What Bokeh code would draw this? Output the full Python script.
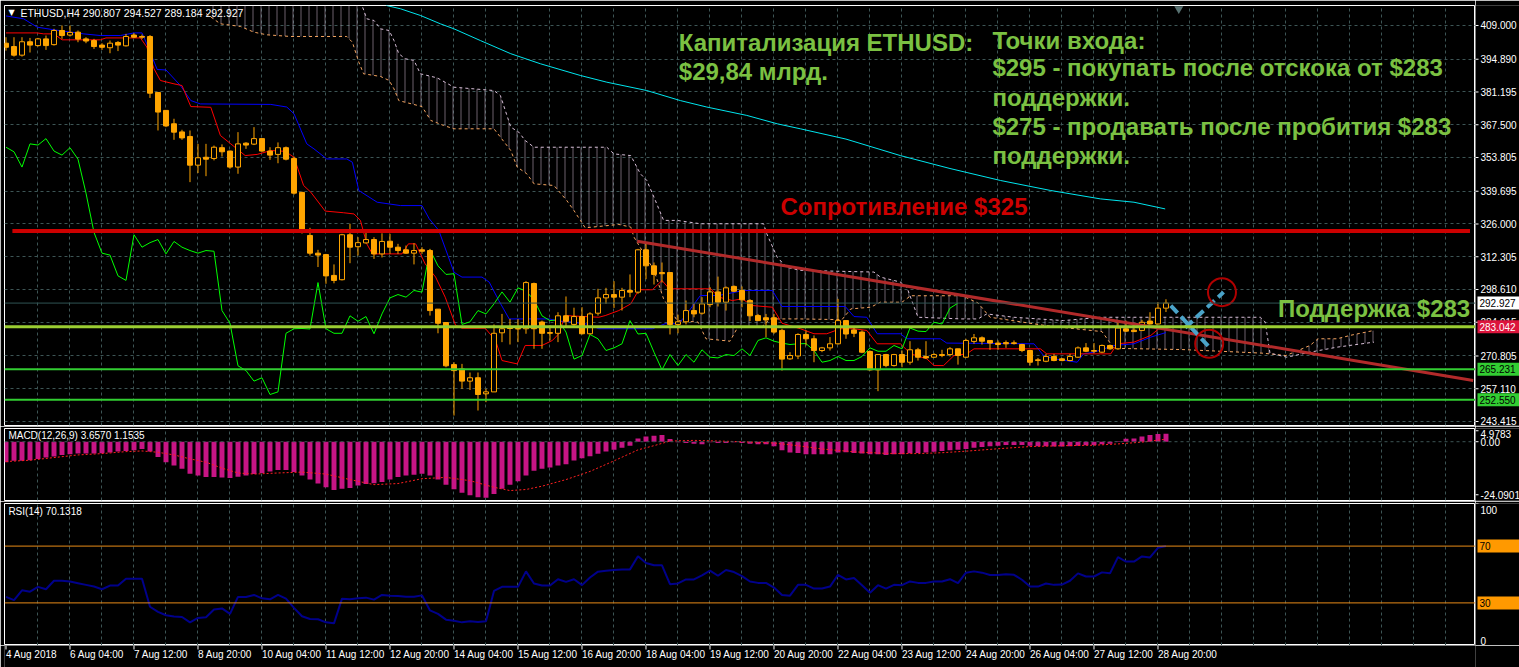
from bokeh.plotting import figure
from bokeh.models import Range1d, FixedTicker, Grid, Label, ColumnDataSource, Span
from bokeh.layouts import column, row
from bokeh.embed import file_html
from bokeh.resources import INLINE
from bokeh.core.properties import value

# ------------------------------------------------------------------ data
bar_open = [
    401.6, 400.2, 396.6, 402.2, 400.6, 403.4, 401.0, 406.9, 405.0, 406.2,
    403.4, 402.7, 400.8, 399.7, 401.9, 400.5, 405.0, 404.4, 404.4, 381.0,
    373.5, 367.9, 364.5, 362.6, 350.6, 353.9, 353.4, 357.9, 356.5, 349.8,
    359.8, 359.4, 361.7, 356.5, 355.1, 357.9, 353.4, 339.2, 321.2, 313.8,
    313.2, 304.5, 302.7, 321.5, 316.5, 318.1, 319.5, 313.5, 318.8, 316.3,
    315.2, 313.8, 315.2, 314.9, 290.4, 284.8, 267.2, 265.4, 260.3, 261.7,
    255.0, 255.8, 280.5, 282.5, 282.3, 282.2, 301.1, 285.0, 280.6, 280.3,
    287.6, 284.0, 287.3, 280.1, 288.7, 295.1, 296.5, 295.4, 298.2, 297.5,
    315.2, 308.5, 305.7, 305.7, 284.0, 285.1, 289.8, 288.7, 292.3, 297.6,
    293.3, 299.9, 298.2, 294.0, 287.7, 286.8, 286.8, 281.5, 269.6, 270.8,
    279.8, 278.0, 273.1, 274.2, 275.9, 285.6, 281.7, 280.8, 272.7, 265.0,
    271.4, 266.8, 271.4, 268.2, 273.4, 270.6, 270.3, 271.4, 271.4, 273.8,
    270.3, 276.9, 278.4, 277.3, 276.2, 276.4, 276.3, 275.6, 273.1, 269.2,
    268.6, 270.6, 269.6, 268.9, 270.3, 274.2, 273.1, 272.4, 275.2, 273.8,
    282.2, 281.6, 281.5, 285.4, 284.2, 290.807]
bar_high = [
    404.1, 404.1, 404.1, 403.8, 403.8, 404.8, 407.6, 409.0, 409.0, 406.9,
    404.1, 403.4, 401.6, 402.7, 402.5, 405.5, 405.8, 405.2, 405.0, 381.0,
    373.5, 370.0, 365.4, 365.1, 359.5, 359.5, 358.8, 359.3, 356.7, 364.4,
    360.2, 366.5, 361.7, 358.1, 360.1, 358.4, 354.2, 339.5, 324.4, 315.2,
    313.5, 309.1, 321.9, 326.1, 320.5, 323.6, 320.5, 322.1, 321.9, 317.7,
    317.0, 318.0, 316.3, 315.6, 290.4, 284.8, 268.2, 267.5, 263.9, 263.9,
    257.1, 284.0, 288.4, 286.3, 286.3, 302.1, 301.5, 285.6, 283.6, 289.1,
    295.7, 291.0, 291.2, 289.1, 298.9, 299.3, 302.1, 299.3, 304.9, 315.6,
    317.7, 309.9, 309.9, 305.7, 288.1, 294.0, 292.6, 295.4, 299.6, 304.0,
    299.9, 300.3, 299.9, 294.6, 288.4, 288.4, 288.4, 282.2, 272.4, 280.3,
    281.5, 279.4, 274.6, 278.7, 294.7, 285.6, 282.6, 281.5, 273.1, 271.5,
    271.7, 271.7, 273.1, 277.0, 274.2, 277.0, 272.0, 273.4, 274.5, 273.8,
    278.0, 280.0, 279.0, 277.3, 277.3, 277.3, 277.3, 275.9, 273.4, 270.0,
    271.7, 271.7, 270.0, 271.7, 274.8, 276.2, 276.2, 275.6, 275.6, 285.0,
    285.6, 284.0, 285.9, 289.1, 293.3, 294.527]
bar_low = [
    398.5, 396.0, 396.0, 397.7, 400.2, 398.8, 400.6, 403.4, 404.4, 402.0,
    401.6, 399.2, 398.8, 397.4, 398.3, 400.2, 403.8, 403.3, 378.7, 365.1,
    366.5, 361.2, 361.2, 343.5, 347.3, 346.0, 352.6, 354.2, 349.1, 347.0,
    357.4, 359.0, 356.2, 352.8, 351.4, 352.6, 338.3, 322.0, 312.8, 308.0,
    301.0, 301.2, 302.4, 309.6, 312.8, 317.8, 311.4, 312.0, 313.5, 313.5,
    313.5, 309.1, 313.5, 287.7, 280.3, 266.1, 245.9, 257.1, 256.6, 248.0,
    251.5, 255.8, 276.6, 275.6, 276.6, 280.1, 273.8, 273.8, 277.3, 276.6,
    282.8, 282.8, 279.8, 279.8, 287.7, 292.6, 290.9, 289.8, 295.4, 296.8,
    302.9, 300.7, 301.5, 279.8, 280.3, 284.0, 287.0, 288.1, 291.2, 291.5,
    289.8, 297.5, 291.2, 285.4, 285.4, 278.7, 280.1, 264.7, 269.2, 269.5,
    275.2, 268.2, 272.4, 273.1, 275.6, 278.0, 278.7, 272.0, 264.7, 256.1,
    266.1, 266.4, 266.1, 267.2, 268.9, 269.6, 270.0, 270.3, 270.6, 267.2,
    270.0, 275.9, 275.6, 273.4, 273.4, 274.2, 275.6, 272.4, 266.8, 266.8,
    268.2, 268.6, 268.6, 268.6, 270.0, 272.4, 272.0, 272.0, 273.4, 273.4,
    280.8, 281.0, 281.2, 284.0, 284.0, 289.184]
bar_close = [
    399.9, 396.6, 402.2, 400.8, 403.4, 400.6, 406.9, 404.8, 406.1, 403.3,
    402.5, 400.2, 399.9, 401.6, 400.8, 404.4, 404.1, 404.1, 380.7, 372.8,
    367.0, 364.4, 362.0, 350.6, 353.7, 353.1, 358.1, 356.2, 349.8, 359.5,
    359.0, 361.7, 356.5, 354.8, 357.9, 353.1, 338.9, 322.5, 313.8, 313.0,
    304.3, 302.4, 321.5, 316.3, 318.2, 319.5, 313.5, 318.7, 316.3, 314.9,
    313.8, 314.9, 314.6, 289.8, 284.5, 266.7, 264.7, 260.3, 261.7, 254.7,
    255.8, 280.3, 282.2, 282.3, 282.1, 301.5, 282.2, 280.3, 280.3, 287.6,
    285.3, 287.3, 280.1, 288.4, 295.1, 296.5, 295.4, 298.2, 297.5, 315.2,
    308.5, 304.9, 305.2, 284.0, 285.1, 289.8, 288.4, 292.6, 297.6, 293.3,
    299.3, 297.9, 294.3, 287.6, 285.6, 285.9, 280.8, 269.5, 271.0, 279.8,
    278.0, 273.1, 274.2, 275.9, 285.6, 280.0, 280.3, 272.4, 265.0, 271.4,
    266.8, 271.4, 268.2, 273.4, 270.3, 270.0, 271.4, 271.0, 273.8, 271.0,
    277.3, 278.4, 277.0, 276.2, 275.6, 275.9, 276.0, 273.1, 268.2, 268.9,
    270.6, 268.9, 268.9, 270.6, 274.2, 272.8, 272.8, 275.2, 273.8, 282.5,
    281.2, 281.0, 284.9, 284.2, 290.8, 292.927]

# Ichimoku lines (read as break points: bar index, price)
tenkan_x = [0, 3.9, 4.7, 6.0, 7.0, 11.8, 12.5, 16.8, 17.6, 18.5, 19.3, 21.0, 22.0, 23.1, 25.6, 26.8,
            28.1, 29.9, 31.4, 33.1, 34.9, 36.0, 37.2, 38.1, 39.9, 42.2, 43.5, 44.3, 45.1, 45.8, 49.5,
            50.3, 51.2, 52.4, 53.7, 54.9, 56.2, 57.0, 59.9, 61.2, 62.0, 63.9, 64.9, 67.0, 68.3, 69.1,
            69.9, 74.1, 74.9, 76.6, 78.1, 79.1, 80.8, 82.0, 82.9, 88.1, 89.1, 90.8, 92.0, 93.3, 95.8,
            97.0, 99.3, 101.0, 102.6, 104.3, 106.0, 107.6, 108.9, 111.8, 113.1, 115.1, 116.0, 117.2,
            118.5, 120.1, 121.0, 129.3, 130.1, 138.1, 138.9, 141.0, 143.1, 144.1, 145.0]
tenkan_y = [405.9, 405.9, 405.5, 405.5, 403.0, 403.0, 403.8, 403.8, 400.0, 390.9, 386.0, 384.6, 383.9,
            375.1, 374.8, 363.0, 359.5, 354.6, 355.1, 356.7, 356.4, 353.9, 342.1, 339.3, 331.4, 330.7,
            330.2, 327.5, 317.7, 313.5, 313.5, 317.7, 317.7, 309.3, 303.8, 295.4, 283.6, 282.4, 282.4,
            277.3, 268.9, 267.5, 275.2, 275.2, 277.3, 280.1, 287.7, 287.0, 287.7, 289.8, 292.6, 298.5,
            298.5, 302.4, 298.9, 298.9, 295.4, 294.0, 294.7, 291.9, 291.2, 284.5, 282.2, 280.1, 280.1,
            282.2, 282.2, 281.5, 275.9, 275.9, 271.7, 269.6, 266.8, 266.8, 271.0, 271.7, 273.8, 273.8,
            271.7, 271.7, 275.9, 276.6, 279.4, 282.2, 282.2]
kijun_x = [0, 2.2, 3.9, 6.0, 9.7, 11.8, 14.3, 16.0, 17.0, 17.6, 18.9, 20.0, 21.8, 23.1, 24.3, 33.1,
           35.1, 36.0, 37.6, 38.5, 40.1, 42.6, 43.3, 44.1, 46.4, 49.3, 52.0, 52.9, 54.1, 56.0, 57.0,
           59.5, 60.4, 61.6, 62.9, 67.9, 69.1, 70.8, 72.9, 74.1, 80.8, 82.4, 84.1, 85.1, 86.8, 89.1,
           92.2, 95.8, 97.0, 104.9, 106.0, 107.6, 108.9, 111.8, 112.6, 116.8, 117.6, 128.5, 129.7,
           131.0, 133.9, 134.7, 136.0, 138.5, 141.0, 143.1, 145.0]
kijun_y = [413.0, 411.8, 408.3, 407.2, 405.5, 404.8, 404.8, 405.9, 405.9, 401.3, 390.6, 390.4, 383.9,
           377.6, 376.2, 376.0, 374.9, 372.1, 359.5, 357.4, 353.2, 353.2, 351.8, 340.0, 335.1, 333.7,
           333.7, 328.2, 323.3, 305.8, 303.8, 303.8, 301.7, 294.0, 286.3, 286.3, 285.4, 285.0, 284.0,
           282.2, 282.2, 284.3, 284.3, 288.4, 296.1, 296.1, 298.2, 298.2, 291.5, 291.5, 287.3, 287.0,
           280.1, 280.1, 278.0, 278.0, 276.2, 275.9, 271.0, 269.6, 268.2, 271.7, 272.4, 275.2, 275.9,
           278.7, 280.6]
span_a_x = [25, 26.8, 29.3, 31.0, 32.6, 35.6, 42.6, 43.3, 44.1, 44.7, 46.8, 47.9, 48.5, 49.1, 52.0,
            53.1, 54.7, 56.0, 61.0, 63.1, 63.9, 65.1, 66.0, 68.5, 70.1, 71.0, 71.8, 72.4, 76.6, 78.1,
            78.5, 81.0, 82.2, 83.9, 86.5, 87.5, 90.5, 91.5, 94.5, 95.5, 99.3, 104.5, 105.6, 108.1,
            109.3, 112.0, 113.1, 119.5, 121.5, 123.0, 130.0, 137.0, 138.5, 147.0, 157.0, 160.0, 163.0,
            164.0, 166.4, 168.0, 170.0, 171.0]
span_a_y = [414.0, 409.7, 408.6, 406.2, 405.1, 404.4, 404.4, 402.0, 393.7, 388.8, 387.7, 386.0, 382.5,
            377.6, 375.1, 369.3, 367.2, 365.8, 365.8, 356.7, 349.8, 347.0, 342.8, 342.1, 335.8, 331.6,
            327.5, 324.4, 325.8, 324.7, 320.5, 306.6, 294.7, 285.6, 285.0, 278.0, 277.0, 283.0, 283.0,
            286.3, 286.3, 286.0, 290.5, 291.2, 293.3, 293.3, 296.0, 296.0, 293.0, 287.0, 283.5, 281.0,
            274.0, 273.5, 272.0, 271.0, 275.2, 278.0, 278.0, 279.4, 280.8, 281.5]
span_b_x = [25, 44.2, 44.5, 45.1, 46.0, 46.8, 47.9, 48.5, 49.1, 49.9, 51.0, 51.8, 53.9, 56.0, 61.0,
            61.8, 63.1, 64.1, 64.9, 66.0, 75.1, 76.0, 78.1, 79.3, 80.1, 81.0, 82.2, 83.9, 86.8, 94.7,
            95.1, 96.4, 97.6, 99.3, 108.5, 109.3, 111.8, 112.6, 114.0, 119.5, 121.5, 122.6, 126.0,
            132.2, 136.8, 156.8, 157.4, 158.0, 160.1, 163.0, 166.4, 171.0]
span_b_y = [425.0, 425.0, 417.4, 411.8, 411.1, 407.6, 406.9, 402.7, 397.2, 395.1, 394.4, 388.8, 387.1,
            383.2, 381.8, 379.7, 366.5, 364.4, 360.9, 358.1, 358.1, 355.3, 354.6, 347.0, 344.2, 337.2,
            327.5, 327.5, 326.1, 326.1, 321.9, 312.1, 307.9, 306.6, 305.9, 303.8, 301.7, 299.6, 287.0,
            286.3, 286.3, 288.4, 287.0, 285.6, 287.0, 287.0, 285.0, 272.0, 270.3, 272.4, 274.5, 276.6]
chikou_shift = 26

# long moving average (cyan)
ma_x = [47.5, 49.3, 51.8, 54.3, 56.0, 59.3, 63.1, 66.8, 71.8, 75.1, 80.1, 84.3, 87.6, 92.6, 96.4,
        99.3, 105.0, 111.8, 118.0, 124.3, 130.6, 136.8, 141.0, 144.9]
ma_y = [417.4, 416.0, 413.2, 409.7, 407.6, 402.7, 397.2, 393.0, 388.1, 385.3, 381.8, 377.6, 374.9,
        371.4, 367.9, 365.8, 361.5, 354.6, 349.2, 344.2, 340.0, 336.5, 335.1, 332.3]

# MACD
macd_hist = [
    -9.3, -8.7, -8.7, -8.4, -7.8, -7.2, -6.7, -6.0, -5.7, -5.4,
    -5.4, -5.4, -5.2, -4.9, -4.5, -4.2, -3.9, -3.3, -4.5, -6.9,
    -9.3, -10.8, -12.3, -14.5, -15.4, -16.0, -16.0, -16.2, -16.5, -15.9,
    -15.3, -14.7, -14.2, -13.5, -12.9, -12.9, -13.8, -15.3, -17.2, -19.0,
    -20.7, -21.9, -21.4, -21.0, -19.9, -19.2, -18.9, -18.3, -17.2, -16.0,
    -15.4, -15.0, -14.5, -15.4, -17.2, -19.5, -21.6, -23.2, -24.3, -25.2,
    -25.5, -23.7, -21.4, -19.5, -18.0, -15.3, -13.2, -12.3, -11.7, -10.8,
    -10.2, -8.5, -7.5, -6.6, -5.5, -4.5, -3.6, -2.7, -1.8, 1.5,
    2.4, 2.7, 3.0, 1.2, -0.3, -0.6, -0.9, -1.2, -0.3, -0.6,
    -0.6, -0.3, -0.6, -0.9, -1.2, -1.2, -2.1, -3.9, -4.9, -5.1,
    -5.7, -5.7, -5.7, -5.7, -4.9, -4.8, -5.1, -5.4, -5.7, -5.7,
    -6.0, -5.7, -5.7, -5.2, -5.1, -4.9, -4.6, -4.2, -3.9, -3.6,
    -3.3, -2.7, -2.4, -2.1, -1.8, -1.5, -1.5, -1.5, -1.8, -2.1,
    -2.1, -2.2, -2.2, -2.1, -1.8, -1.6, -1.5, -1.2, -0.9, 0.2,
    1.3, 1.5, 2.4, 3.0, 3.5, 3.657]
signal_x = [0, 3, 6, 9, 12, 15, 17, 19, 21, 23, 25, 27, 29, 31, 34, 37, 40, 43, 46, 49, 52, 55, 58,
            61, 63, 65, 67, 70, 73, 76, 79, 81, 83, 86, 89, 92, 94, 96, 99, 102, 106, 110, 114, 117,
            120, 124, 128, 132, 136, 139, 142, 145]
signal_v = [-9.0, -8.4, -7.2, -6.0, -5.4, -4.5, -4.2, -4.8, -6.0, -7.8, -9.3, -12.0, -14.2, -14.7,
            -14.2, -13.8, -14.7, -17.2, -19.5, -19.0, -16.8, -16.2, -17.7, -20.7, -22.2, -21.7, -20.2,
            -17.2, -13.5, -8.7, -3.7, -1.8, 0.3, 0.6, 0.3, 0.0, -0.3, -0.6, -1.8, -3.3, -4.6, -5.3,
            -5.4, -5.0, -4.3, -3.2, -2.2, -1.8, -1.6, -1.0, -0.2, 1.1535]

# RSI(14)
rsi = [
    34.2, 32.0, 38.9, 37.9, 41.3, 39.6, 45.6, 45.6, 45.1, 43.9,
    42.7, 41.5, 39.6, 42.2, 42.2, 47.0, 47.0, 47.0, 27.3, 23.7,
    21.3, 20.4, 20.1, 16.3, 19.4, 19.9, 25.4, 26.1, 22.3, 34.2,
    34.2, 35.6, 33.2, 32.5, 35.6, 33.0, 26.5, 20.6, 18.7, 18.5,
    16.3, 15.6, 33.0, 32.5, 33.2, 33.7, 32.3, 35.6, 35.1, 34.9,
    34.4, 34.4, 35.3, 24.7, 22.3, 18.2, 17.5, 16.3, 17.0, 16.6,
    17.0, 38.4, 41.3, 41.3, 41.3, 52.2, 43.7, 42.2, 42.2, 46.7,
    44.8, 46.7, 42.5, 47.9, 52.0, 52.7, 53.2, 53.6, 53.6, 62.9,
    58.1, 56.5, 56.5, 43.2, 43.7, 46.5, 46.5, 49.4, 52.7, 49.1,
    53.2, 51.7, 48.9, 45.1, 44.1, 44.1, 40.8, 35.6, 35.1, 42.7,
    42.7, 40.1, 40.1, 41.5, 49.8, 46.5, 47.5, 42.5, 37.2, 42.5,
    40.1, 42.7, 42.5, 45.1, 44.1, 44.1, 45.1, 45.1, 46.7, 43.9,
    51.3, 52.2, 51.3, 49.6, 49.6, 50.1, 49.8, 46.3, 41.5, 41.5,
    43.7, 42.7, 42.9, 45.6, 50.8, 48.6, 48.6, 51.5, 50.8, 62.2,
    59.1, 59.1, 62.7, 62.0, 68.8, 70.1318]
rsi_levels = [70, 30]

# axis ticks and labels
price_ticks = [409.000, 394.890, 381.195, 367.500, 353.805, 339.695, 326.000, 312.305,
               298.610, 284.915, 270.805, 257.110, 243.415]
macd_ticks = [4.9783, 0.0, -24.0901]
macd_tick_text = ["4.9783", "0.00", "-24.0901"]
rsi_ticks = [100, 0]
rsi_tick_text = ["100", "0"]
time_tick_bars = [0, 8, 16, 24, 32, 40, 48, 56, 64, 72, 80, 88, 96, 104, 112, 120, 128, 136, 144]
time_labels = ["4 Aug 2018", "6 Aug 04:00", "7 Aug 12:00", "8 Aug 20:00", "10 Aug 04:00",
               "11 Aug 12:00", "12 Aug 20:00", "14 Aug 04:00", "15 Aug 12:00", "16 Aug 20:00",
               "18 Aug 04:00", "19 Aug 12:00", "20 Aug 20:00", "22 Aug 04:00", "23 Aug 12:00",
               "24 Aug 20:00", "26 Aug 04:00", "27 Aug 12:00", "28 Aug 20:00"]

# horizontal levels / drawn objects
current_price = 292.927
support_level = 283.042
green_levels = [265.231, 252.550]
resistance_level = 323.1
resistance_x = [0.8, 183.0]
trend_x = [78.9, 183.4]
trend_y = [318.8, 260.6]
arrow1_x = [145.6, 150.6]
arrow1_y = [291.9, 273.8]
arrow2_x = [147.4, 152.2]
arrow2_y = [282.6, 297.5]
circle_x = [152.0, 150.4]
circle_y = [297.5, 275.9]
shift_mark = (146.6, 416.0)

# texts
green_notes = [
    ("Капитализация ETHUSD:", 84.1, 401.9),
    ("$29,84 млрд.", 84.1, 389.8),
    ("Точки входа:", 123.3, 402.7),
    ("$295 - покупать после отскока от $283", 123.3, 391.4),
    ("поддержки.", 123.3, 378.9),
    ("$275 - продавать после пробития  $283", 123.3, 366.8),
    ("поддержки.", 123.3, 354.6),
    ("Поддержка $283", 159.0, 290.7),
]
red_note = ("Сопротивление $325", 96.8, 333.3)
header_text = "ETHUSD,H4  290.807 294.527 289.184 292.927"
macd_title = "MACD(12,26,9) 3.6570 1.1535"
rsi_title = "RSI(14) 70.1318"
price_boxes = [("292.927", 292.927, "#ffffff", "#000000"),
               ("283.042", 283.042, "#dc143c", "#ffffff"),
               ("265.231", 265.231, "#32cd32", "#000000"),
               ("252.550", 252.550, "#32cd32", "#000000")]
rsi_boxes = [("70", 70, "#ff9900", "#000000"), ("30", 30, "#ff9900", "#000000")]

# ------------------------------------------------------------------ style
LEFT = 4
FRAME_W = 1471
MAIN_W = LEFT + FRAME_W
SIDE_W = 44
BG = "#000000"
GRIDC = "#3d5555"
FONT = "Liberation Sans"
CANDLE = "#ffa500"
GREEN_TXT = "#7bc142"
X_START, X_END = -0.1875, 183.69

xr = Range1d(X_START, X_END)
vgrid_ticks = list(range(4, 184, 4))


def make_fig(h, yr, top, bottom):
    p = figure(width=MAIN_W, height=h, x_range=xr, y_range=yr,
               output_backend="svg", toolbar_location=None,
               x_axis_location=None, y_axis_location=None,
               min_border_left=LEFT, min_border_right=0,
               min_border_top=top, min_border_bottom=bottom,
               background_fill_color=BG, border_fill_color=BG,
               outline_line_color="white", outline_line_width=1)
    p.grid.visible = False
    vg = Grid(dimension=0, ticker=FixedTicker(ticks=vgrid_ticks),
              grid_line_color=GRIDC, grid_line_dash="3 3", grid_line_width=1)
    p.add_layout(vg, "center")
    return p


def make_side(h, yr, top, bottom):
    s = figure(width=SIDE_W, height=h, x_range=Range1d(0, SIDE_W), y_range=yr,
               output_backend="svg", toolbar_location=None,
               x_axis_location=None, y_axis_location=None,
               min_border_left=0, min_border_right=0,
               min_border_top=top, min_border_bottom=bottom,
               background_fill_color=BG, border_fill_color=BG, outline_line_color=None)
    s.grid.visible = False
    return s


def side_ticks(s, ticks, texts, baselines=None, offsets=None):
    n = len(ticks)
    s.segment(x0=[0] * n, x1=[3] * n, y0=ticks, y1=ticks, line_color="white", line_width=1)
    for k in range(n):
        s.text(x=[5], y=[ticks[k]], text=[texts[k]], text_font=value(FONT),
               text_font_size="10px", text_color="white", text_align="left",
               text_baseline=(baselines[k] if baselines else "middle"),
               y_offset=(offsets[k] if offsets else 0))


def side_boxes(s, boxes):
    for t, y, bg, fg in boxes:
        s.rect(x=[23], y=[y], width=42, height=13, height_units="screen",
               fill_color=bg, line_color=None)
        s.text(x=[4], y=[y], text=[t], text_font=value(FONT), text_font_size="10px",
               text_color=fg, text_align="left", text_baseline="middle")


# ------------------------------------------------------------------ main pane
yr1 = Range1d(241.74, 417.36)
p1 = make_fig(426, yr1, 5, 1)
p1.add_layout(Grid(dimension=1, ticker=FixedTicker(ticks=price_ticks),
                   grid_line_color=GRIDC, grid_line_dash="3 3"), "center")

# cloud
p1.patch(x=span_a_x + span_b_x[::-1], y=span_a_y + span_b_y[::-1],
         fill_alpha=0, line_alpha=0, hatch_pattern="vertical_line",
         hatch_color="#d8bfd8", hatch_scale=8, hatch_weight=1, hatch_alpha=0.5)
p1.line(span_a_x, span_a_y, line_color="#f4a460", line_dash="3 3", line_width=1)
p1.line(span_b_x, span_b_y, line_color="#d8bfd8", line_dash="3 3", line_width=1)

p1.line(ma_x, ma_y, line_color="#00e5ee", line_width=1)
p1.line(kijun_x, kijun_y, line_color="#0000ff", line_width=1)
p1.line(tenkan_x, tenkan_y, line_color="#ff0000", line_width=1)
chikou_x = [i - chikou_shift for i in range(chikou_shift, len(bar_close))]
p1.line(chikou_x, bar_close[chikou_shift:], line_color="#00ff00", line_width=1)

p1.add_layout(Span(location=current_price, dimension="width", line_color="#2f5454", line_width=1))

# candles
idx = list(range(len(bar_close)))
tops = [max(o, c) for o, c in zip(bar_open, bar_close)]
bots = [min(o, c) for o, c in zip(bar_open, bar_close)]
fills = [CANDLE if c < o else BG for o, c in zip(bar_open, bar_close)]
src = ColumnDataSource(dict(x=idx, h=bar_high, l=bar_low, top=tops, bot=bots, fill=fills))
p1.segment(x0="x", y0="l", x1="x", y1="h", source=src, line_color=CANDLE, line_width=1)
p1.vbar(x="x", width=0.62, top="top", bottom="bot", source=src,
        fill_color="fill", line_color=CANDLE, line_width=1)

# levels & drawings
p1.add_layout(Span(location=support_level, dimension="width", line_color="#9acd32", line_width=3))
for lv in green_levels:
    p1.add_layout(Span(location=lv, dimension="width", line_color="#32cd32", line_width=2))
p1.line(resistance_x, [resistance_level, resistance_level], line_color="#cc0000", line_width=4)
p1.line(trend_x, trend_y, line_color="#b22a2a", line_width=3)
p1.line(arrow1_x, arrow1_y, line_color="#4aa3c8", line_width=4, line_dash="10 5")
p1.line(arrow2_x, arrow2_y, line_color="#4aa3c8", line_width=4, line_dash="10 5")
p1.scatter(circle_x, circle_y, marker="circle", size=28, fill_alpha=0,
           line_color="#b00000", line_width=2)
p1.scatter([shift_mark[0]], [shift_mark[1]], marker="inverted_triangle", size=9,
           fill_color="#587272", line_color=None)

for txt, x, y in green_notes:
    p1.add_layout(Label(x=x, y=y, text=txt, text_font=FONT, text_font_style="bold",
                        text_font_size="24px", text_color=GREEN_TXT, text_baseline="middle"))
p1.add_layout(Label(x=red_note[1], y=red_note[2], text=red_note[0], text_font=FONT,
                    text_font_style="bold", text_font_size="24px", text_color="#cc0000",
                    text_baseline="middle"))
p1.add_layout(Label(x=0.3, y=414.4, text="▼", text_font="DejaVu Sans", text_font_size="8px",
                    text_color="white", text_baseline="middle"))
p1.add_layout(Label(x=1.8, y=414.4, text=header_text, text_font=FONT, text_font_size="10.5px",
                    text_color="white", text_baseline="middle"))

s1 = make_side(426, yr1, 5, 1)
side_ticks(s1, price_ticks, ["%.3f" % v for v in price_ticks])
side_boxes(s1, price_boxes)

# ------------------------------------------------------------------ MACD pane
yr2 = Range1d(-26.7, 6.0)
p2 = make_fig(75, yr2, 2, 1)
p2.add_layout(Span(location=0, dimension="width", line_color=GRIDC, line_dash="3 3", line_width=1))
p2.vbar(x=idx, width=0.62, top=macd_hist, bottom=0, fill_color="#c71585", line_color=None)
p2.line(signal_x, signal_v, line_color="#ff2020", line_dash="2 2", line_width=1)
p2.add_layout(Label(x=0.3, y=2.8, text=macd_title, text_font=FONT, text_font_size="10px",
                    text_color="white", text_baseline="middle"))
s2 = make_side(75, yr2, 2, 1)
side_ticks(s2, macd_ticks, macd_tick_text, ["top", "middle", "middle"], [-1, 0, 0])

# ------------------------------------------------------------------ RSI pane
yr3 = Range1d(0, 100)
p3 = make_fig(144, yr3, 2, 0)
for lv in rsi_levels:
    p3.add_layout(Span(location=lv, dimension="width", line_color="#e88b17", line_width=1))
p3.line(idx, rsi, line_color="#00008b", line_width=2)
p3.add_layout(Label(x=0.3, y=94.4, text=rsi_title, text_font=FONT, text_font_size="10px",
                    text_color="white", text_baseline="middle"))
s3 = make_side(144, yr3, 2, 0)
side_ticks(s3, rsi_ticks, rsi_tick_text, ["top", "bottom"], [2, -1])
side_boxes(s3, rsi_boxes)

# ------------------------------------------------------------------ time axis
p4 = figure(width=MAIN_W + SIDE_W, height=22, x_range=xr, y_range=Range1d(0, 22),
            output_backend="svg", toolbar_location=None,
            x_axis_location=None, y_axis_location=None,
            min_border_left=LEFT, min_border_right=SIDE_W, min_border_top=0, min_border_bottom=0,
            background_fill_color=BG, border_fill_color=BG, outline_line_color=None)
p4.grid.visible = False
nt = len(time_tick_bars)
p4.segment(x0=time_tick_bars, x1=time_tick_bars, y0=[22] * nt, y1=[18] * nt,
           line_color="white", line_width=1)
p4.text(x=time_tick_bars, y=[13] * nt, text=time_labels, text_font=value(FONT),
        text_font_size="10px", text_color="white", text_align="left", text_baseline="middle")

layout = column(row(p1, s1, spacing=0), row(p2, s2, spacing=0), row(p3, s3, spacing=0), p4,
                spacing=0)
open("out.html", "w").write(file_html(layout, INLINE))
